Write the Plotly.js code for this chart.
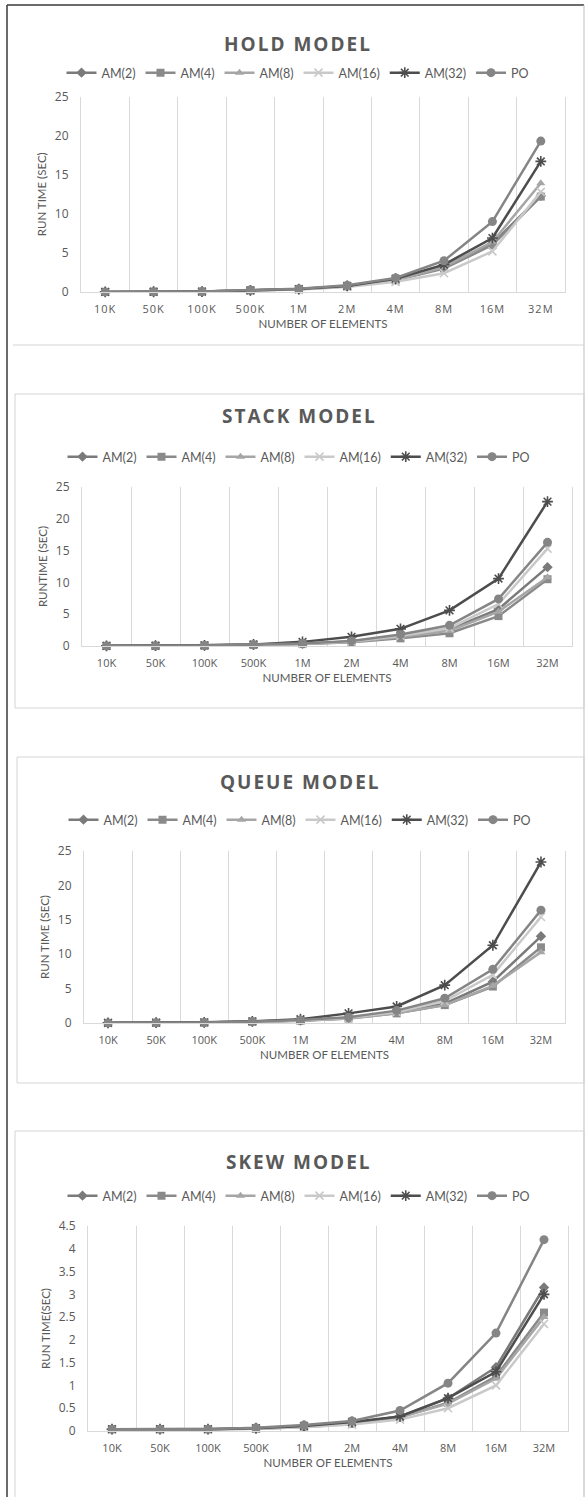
<!DOCTYPE html>
<html>
<head>
<meta charset="utf-8">
<script src="https://cdn.plot.ly/plotly-3.0.1.min.js"></script>
<style>
  html, body { margin: 0; padding: 0; background: #ffffff; }
  #chart { width: 587px; height: 1497px; }
  .annotation-text { letter-spacing: 2px; }
  .xtick text { letter-spacing: 1px; }
</style>
</head>
<body>
<div id="chart"></div>
<script>
// ---------------- DATA ----------------
const categories = ['10K', '50K', '100K', '500K', '1M', '2M', '4M', '8M', '16M', '32M'];
const seriesNames = ['AM(2)', 'AM(4)', 'AM(8)', 'AM(16)', 'AM(32)', 'PO'];
const chartTitles = ['HOLD MODEL', 'STACK MODEL', 'QUEUE MODEL', 'SKEW MODEL'];
const yTitles = ['RUN TIME (SEC)', 'RUNTIME (SEC)', 'RUN TIME (SEC)', 'RUN TIME(SEC)'];
const xTitle = 'NUMBER OF ELEMENTS';

// HOLD MODEL (seconds)
const holdAM2  = [0.01, 0.03, 0.06, 0.20, 0.35, 0.75, 1.6, 3.3, 6.2, 12.3];
const holdAM4  = [0.01, 0.03, 0.06, 0.20, 0.35, 0.72, 1.5, 3.0, 6.0, 12.2];
const holdAM8  = [0.01, 0.03, 0.06, 0.20, 0.35, 0.72, 1.5, 3.2, 6.4, 13.9];
const holdAM16 = [0.01, 0.03, 0.05, 0.18, 0.32, 0.65, 1.3, 2.4, 5.2, 12.8];
const holdAM32 = [0.01, 0.03, 0.06, 0.20, 0.38, 0.78, 1.7, 3.5, 6.9, 16.7];
const holdPO   = [0.01, 0.03, 0.07, 0.25, 0.42, 0.85, 1.8, 4.0, 9.0, 19.3];

// STACK MODEL
const stackAM2  = [0.01, 0.03, 0.06, 0.20, 0.35, 0.70, 1.6, 2.6, 5.8, 12.4];
const stackAM4  = [0.01, 0.03, 0.05, 0.18, 0.30, 0.60, 1.2, 2.0, 4.7, 10.5];
const stackAM8  = [0.01, 0.03, 0.05, 0.18, 0.32, 0.62, 1.4, 2.4, 5.4, 10.8];
const stackAM16 = [0.01, 0.03, 0.06, 0.20, 0.35, 0.70, 1.6, 2.8, 6.6, 15.3];
const stackAM32 = [0.02, 0.05, 0.10, 0.25, 0.65, 1.45, 2.7, 5.6, 10.6, 22.7];
const stackPO   = [0.01, 0.03, 0.07, 0.22, 0.40, 0.80, 1.8, 3.25, 7.4, 16.3];

// QUEUE MODEL
const queueAM2  = [0.01, 0.03, 0.06, 0.20, 0.35, 0.75, 1.6, 2.8, 6.0, 12.6];
const queueAM4  = [0.01, 0.03, 0.05, 0.18, 0.32, 0.65, 1.4, 2.6, 5.3, 11.0];
const queueAM8  = [0.01, 0.03, 0.05, 0.18, 0.32, 0.65, 1.4, 2.6, 5.4, 10.3];
const queueAM16 = [0.01, 0.03, 0.06, 0.20, 0.35, 0.75, 1.6, 3.2, 7.0, 15.4];
const queueAM32 = [0.02, 0.05, 0.10, 0.25, 0.55, 1.40, 2.4, 5.5, 11.3, 23.4];
const queuePO   = [0.01, 0.03, 0.07, 0.22, 0.42, 0.85, 1.8, 3.6, 7.8, 16.4];

// SKEW MODEL
const skewAM2  = [0.04, 0.04, 0.04, 0.06, 0.10, 0.18, 0.32, 0.72, 1.40, 3.15];
const skewAM4  = [0.04, 0.04, 0.04, 0.05, 0.09, 0.16, 0.30, 0.62, 1.20, 2.60];
const skewAM8  = [0.04, 0.04, 0.04, 0.05, 0.09, 0.16, 0.30, 0.60, 1.15, 2.50];
const skewAM16 = [0.03, 0.03, 0.03, 0.05, 0.08, 0.14, 0.25, 0.50, 1.00, 2.35];
const skewAM32 = [0.04, 0.04, 0.04, 0.06, 0.11, 0.20, 0.32, 0.72, 1.30, 3.00];
const skewPO   = [0.04, 0.04, 0.04, 0.07, 0.13, 0.22, 0.45, 1.05, 2.15, 4.20];

const yMax  = [25, 25, 25, 4.5];
const yStep = [5, 5, 5, 0.5];

// ---------------- STYLE / LAYOUT ----------------
const W = 587, H = 1497;
const fx = p => p / W;
const fy = p => 1 - p / H;

const allData = [
  [holdAM2, holdAM4, holdAM8, holdAM16, holdAM32, holdPO],
  [stackAM2, stackAM4, stackAM8, stackAM16, stackAM32, stackPO],
  [queueAM2, queueAM4, queueAM8, queueAM16, queueAM32, queuePO],
  [skewAM2, skewAM4, skewAM8, skewAM16, skewAM32, skewPO]
];

const styles = [
  {color: '#7a7a7a', symbol: 'diamond', size: 8},
  {color: '#8a8a8a', symbol: 'square', size: 8},
  {color: '#a6a6a6', symbol: 'triangle-up', size: 8},
  {color: '#c9c9c9', symbol: 'x-thin-open', size: 8, open: true},
  {color: '#4d4d4d', symbol: 'asterisk-open', size: 9, open: true},
  {color: '#858585', symbol: 'circle', size: 9}
];

// plot-area pixel boxes [left, right, top, bottom]
const plotBoxes = [
  [81, 565, 96.5, 292],
  [82, 572, 487, 646],
  [84, 565, 851, 1023],
  [88, 568, 1226, 1431]
];
const titleY  = [44, 416, 782, 1162];
const legendY = [73, 457, 820, 1196];
const titleX  = [298, 299, 300, 299];

const textColor = '#595959';
const traces = [];
const layout = {
  width: W, height: H,
  margin: {l: 0, r: 0, t: 0, b: 0},
  paper_bgcolor: '#ffffff',
  plot_bgcolor: '#ffffff',
  showlegend: true,
  annotations: [],
  shapes: []
};

for (let k = 0; k < 4; k++) {
  const xa = k === 0 ? 'x' : 'x' + (k + 1);
  const ya = k === 0 ? 'y' : 'y' + (k + 1);
  const lg = k === 0 ? 'legend' : 'legend' + (k + 1);
  const xaKey = k === 0 ? 'xaxis' : 'xaxis' + (k + 1);
  const yaKey = k === 0 ? 'yaxis' : 'yaxis' + (k + 1);
  const b = plotBoxes[k];

  for (let s = 0; s < seriesNames.length; s++) {
    const st = styles[s];
    traces.push({
      type: 'scatter', mode: 'lines+markers',
      x: categories, y: allData[k][s],
      name: seriesNames[s],
      xaxis: xa, yaxis: ya, legend: lg,
      line: {color: st.color, width: 2.5},
      marker: {
        symbol: st.symbol, size: st.size, color: st.color,
        line: {color: st.color, width: st.open ? 1.6 : 0}
      },
      cliponaxis: false,
      hoverinfo: 'x+y+name'
    });
  }

  layout[xaKey] = {
    domain: [fx(b[0]), fx(b[1])],
    anchor: ya,
    type: 'category',
    range: [-0.5, 9.5],
    tickson: 'boundaries',
    showgrid: true, gridcolor: '#d9d9d9', gridwidth: 1,
    showline: true, linecolor: '#d9d9d9', linewidth: 1,
    ticks: '',
    ticklabelstandoff: 7,
    tickfont: {family: 'Open Sans', size: 11, color: textColor},
    title: {text: xTitle, font: {family: 'Lato', size: 11.5, color: textColor}, standoff: 4},
    automargin: false, fixedrange: true, zeroline: false
  };
  layout[yaKey] = {
    domain: [fy(b[3]), fy(b[2])],
    anchor: xa,
    range: [0, yMax[k]],
    dtick: yStep[k], tick0: 0,
    showgrid: false, zeroline: false,
    showline: true, mirror: true, linecolor: '#d9d9d9', linewidth: 1,
    ticks: 'outside', ticklen: 9, tickcolor: 'rgba(0,0,0,0)',
    tickfont: {family: 'Open Sans', size: 12, color: textColor},
    title: {text: yTitles[k], font: {family: 'Lato', size: 11.5, color: textColor}, standoff: 5},
    automargin: false, fixedrange: true
  };
  layout[lg] = {
    orientation: 'h',
    x: fx(titleX[k]), xanchor: 'center',
    y: fy(legendY[k]), yanchor: 'middle',
    font: {family: 'Lato', size: 12.5, color: textColor},
    itemwidth: 30,
    bgcolor: 'rgba(0,0,0,0)',
    borderwidth: 0
  };
  layout.annotations.push({
    text: chartTitles[k],
    xref: 'paper', yref: 'paper',
    x: fx(titleX[k]), y: fy(titleY[k]),
    xanchor: 'center', yanchor: 'middle',
    showarrow: false,
    font: {family: 'Open Sans', size: 19, color: textColor, weight: 700}
  });
}

// Frames around the charts
const frameLight = {color: '#d4d4d4', width: 1};
layout.shapes.push(
  {type: 'line', xref: 'paper', yref: 'paper', x0: fx(7), x1: fx(7), y0: fy(5), y1: fy(1497), line: {color: '#3a3a3a', width: 1.5}, layer: 'below'},
  {type: 'line', xref: 'paper', yref: 'paper', x0: fx(7), x1: fx(584), y0: fy(5), y1: fy(5), line: {color: '#3a3a3a', width: 1.5}, layer: 'below'},
  {type: 'line', xref: 'paper', yref: 'paper', x0: fx(584), x1: fx(584), y0: fy(5), y1: fy(1497), line: {color: '#bdbdbd', width: 1}, layer: 'below'},
  {type: 'line', xref: 'paper', yref: 'paper', x0: fx(13), x1: fx(584), y0: fy(345), y1: fy(345), line: frameLight, layer: 'below'},
  {type: 'rect', xref: 'paper', yref: 'paper', x0: fx(15), x1: fx(584), y0: fy(394), y1: fy(708), line: frameLight, layer: 'below'},
  {type: 'rect', xref: 'paper', yref: 'paper', x0: fx(17), x1: fx(584), y0: fy(757), y1: fy(1083), line: frameLight, layer: 'below'},
  {type: 'rect', xref: 'paper', yref: 'paper', x0: fx(15), x1: fx(584), y0: fy(1131), y1: fy(1500), line: frameLight, layer: 'below'}
);

Plotly.newPlot('chart', traces, layout, {staticPlot: true, displayModeBar: false});
</script>
</body>
</html>
